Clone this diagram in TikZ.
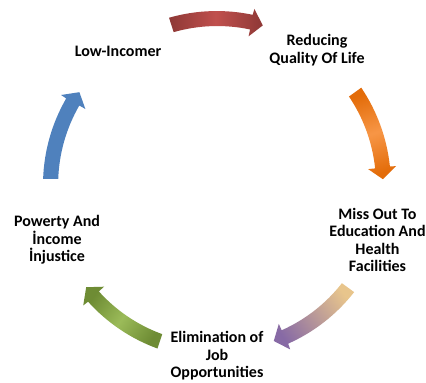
\documentclass[tikz,border=0pt]{standalone}
\usepackage{fontspec}
\setmainfont{Carlito}
\newcommand\cyclearrow[2]{%
  \pgfmathsetmacro\aT{#1+16}%
  \pgfmathsetmacro\aP{#1-16}%
  \pgfmathsetmacro\aH{#1-12}%
  \shade[shift={(217,-185)},#2] (\aT:174) arc[start angle=\aT,end angle=\aH,radius=173]
     -- (\aH:180) -- (\aP:166) -- (\aH:152) -- (\aH:159)
     arc[start angle=\aH,end angle=\aT,radius=158] -- cycle;}
\begin{document}
\begin{tikzpicture}[x=1pt,y=1pt,
  lbl/.style={font=\bfseries\fontsize{16}{17.5}\selectfont,align=center,text=black,inner sep=0pt}]
\useasboundingbox[fill=white] (0,0) rectangle (426,-383);
\cyclearrow{90}{top color={rgb,255:red,142;green,56;blue,54}, bottom color={rgb,255:red,142;green,56;blue,54}, middle color={rgb,255:red,192;green,80;blue,77}, shading angle=-90}
\cyclearrow{18}{top color={rgb,255:red,227;green,108;blue,9}, bottom color={rgb,255:red,227;green,108;blue,9}, middle color={rgb,255:red,247;green,150;blue,70}, shading angle=-162}
\cyclearrow{-54}{top color={rgb,255:red,135;green,106;blue,165}, bottom color={rgb,255:red,232;green,197;blue,140}, shading angle=126}
\cyclearrow{-126}{top color={rgb,255:red,110;green,140;blue,52}, bottom color={rgb,255:red,110;green,140;blue,52}, middle color={rgb,255:red,155;green,187;blue,89}, shading angle=54}
\cyclearrow{162}{top color={rgb,255:red,79;green,129;blue,189}, bottom color={rgb,255:red,79;green,129;blue,189}}
\node[lbl] (low) at (118,-51) {Low-Incomer};
\node[lbl] (rq) at (317,-50) {Reducing\\Quality Of Life};
\node[lbl] (miss) at (377.5,-240) {Miss Out To\\Education And\\Health\\Facilities};
\node[lbl] (elim) at (217,-356) {Elimination of\\Job\\Opportunities};
\node[lbl] (pov) at (57,-240) {Powerty And\\İncome\\İnjustice};
\end{tikzpicture}
\end{document}
